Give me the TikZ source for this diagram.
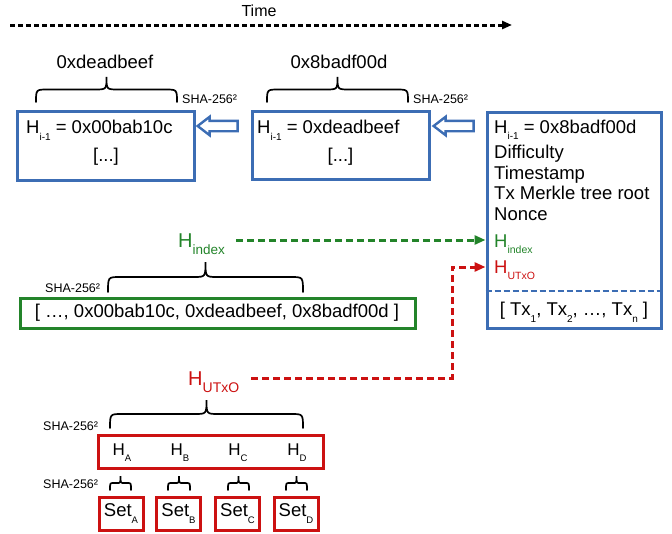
\documentclass[tikz,border=0pt]{standalone}
\usepackage{fontspec}
\setmainfont{Liberation Sans}
\usetikzlibrary{arrows.meta,shapes.arrows}
\definecolor{bblue}{HTML}{3C6DB4}
\definecolor{ggreen}{HTML}{23842A}
\definecolor{rred}{HTML}{CC1111}
\newcommand\fs[1]{\fontsize{#1}{#1}\selectfont}
\newcommand\dn[3]{\raisebox{-#1pt}{\fs{#2}#3}}
\newcommand\brc[4]{%
  \pgfmathsetmacro\bm{(#1+#2)/2}%
  \pgfmathsetmacro\bh{#3-0.5*(#3-#4)}%
  \pgfmathsetmacro\br{min(12,(#2-#1)/6)}%
  \draw[bracepath] (#1,#3) .. controls (#1,\bh) .. (#1+\br,\bh) -- (\bm-\br,\bh)
    .. controls (\bm,\bh) .. (\bm,#4) .. controls (\bm,\bh) .. (\bm+\br,\bh)
    -- (#2-\br,\bh) .. controls (#2,\bh) .. (#2,#3);}
\begin{document}
\begin{tikzpicture}[x=1pt,y=-1pt,font=\fs{18.5},
  box/.style={draw, line width=3pt, inner sep=0pt},
  bluebox/.style={box, draw=bblue},
  greenbox/.style={box, draw=ggreen},
  redbox/.style={box, draw=rred},
  lbl/.style={inner sep=0pt, anchor=base},
  lblw/.style={inner sep=0pt, anchor=base west},
  sha/.style={inner sep=0pt, anchor=base west, font=\fs{12.5}},
  bracepath/.style={line width=1.7pt, line cap=round},
  hollow/.style={single arrow, draw=bblue, fill=white, line width=2.4pt,
    minimum height=40pt, inner xsep=0pt, inner ysep=4pt,
    single arrow head extend=4pt, single arrow tip angle=75,
    shape border rotate=180},
  timeline/.style={line width=3pt, dash pattern=on 5pt off 3pt,
    -{Triangle[length=10pt,width=8pt]}},
  garrow/.style={ggreen, line width=3pt, dash pattern=on 7pt off 4pt,
    -{Triangle[length=11pt,width=9pt]}},
  rarrow/.style={rred, line width=3pt, dash pattern=on 7pt off 4pt,
    -{Triangle[length=11pt,width=9pt]}}
]
\useasboundingbox (0,0) rectangle (672,533);

% time axis
\coordinate (ts) at (10,25);
\coordinate (te) at (512,25);
\node[lbl, font=\fs{16}] (time) at (259,16.5) {Time};
\draw[timeline] (ts) -- (te);

% block headers
\node[lbl] (lab1) at (105,68) {0xdeadbeef};
\node[lbl] (lab2) at (339,68) {0x8badf00d};
\brc{36}{177}{102}{77}
\brc{267}{408}{102}{77}
\node[sha] (sha1) at (182,103) {SHA-256²};
\node[sha] (sha2) at (413,103) {SHA-256²};

% blocks
\node[bluebox, minimum width=177pt, minimum height=69pt] (b1) at (105.5,145.5) {};
\node[lblw] (b1t) at (26,133) {H\dn{7}{10}{i-1} = 0x00bab10c};
\node[lbl] (b1d) at (106,161) {[...]};

\node[bluebox, minimum width=177pt, minimum height=68pt] (b2) at (340.5,145) {};
\node[lblw] (b2t) at (257,133) {H\dn{7}{10}{i-1} = 0xdeadbeef};
\node[lbl] (b2d) at (340.5,161) {[...]};

\node[bluebox, minimum width=174pt, minimum height=216pt] (b3) at (574,220) {};
\node[lblw] (b3a) at (494,133) {H\dn{6}{10}{i-1} = 0x8badf00d};
\node[lblw] (b3b) at (494,158) {Difficulty};
\node[lblw] (b3c) at (494,179) {Timestamp};
\node[lblw] (b3d) at (494,199) {Tx Merkle tree root};
\node[lblw] (b3e) at (494,220) {Nonce};
\node[lblw, text=ggreen] (b3f) at (494,247) {H\dn{6}{10.5}{index}};
\node[lblw, text=rred] (b3g) at (494,273) {H\dn{6}{10.5}{UTxO}};
\coordinate (sepy) at (0,291);
\draw[bblue, line width=2.4pt, dash pattern=on 6pt off 3pt] (b3.west |- sepy) -- (b3.east |- sepy);
\node[lbl] (b3h) at (574,315) {[ Tx\dn{7}{10}{1}, Tx\dn{7}{10}{2}, …, Tx\dn{7}{10}{n} ]};

% hollow arrows between blocks
\node[hollow] (a1) at (221,126) {};
\node[hollow] (a2) at (457,126) {};

% index
\node[lblw, text=ggreen, font=\fs{20}] (hidx) at (178,247) {H\dn{7}{13.5}{index}};
\brc{108}{303}{292}{262}
\node[sha] (sha3) at (45,292) {SHA-256²};
\node[greenbox, minimum width=395pt, minimum height=30pt] (gbox) at (217.5,313) {};
\node[lbl] (gtxt) at (217,317) {[ …, 0x00bab10c, 0xdeadbeef, 0x8badf00d ]};
\draw[garrow] ([shift={(11,-7)}]hidx.base east) coordinate (g0) -- (g0 -| b3.west);

% UTxO
\node[lblw, text=rred, font=\fs{20}] (hutxo) at (188,385) {H\dn{7}{14}{UTxO}};
\coordinate (rc) at (452,267);
\draw[rarrow] ([shift={(12,-7)}]hutxo.base east) coordinate (r0) -| (rc) -- (rc -| b3.west);
\brc{110}{303}{428}{400}
\node[sha] (sha4) at (43,430) {SHA-256²};
\node[redbox, minimum width=225pt, minimum height=33pt] (hbox) at (210.5,451.5) {};
\node[lbl, font=\fs{17}] (ha) at (122,455) {H\dn{6}{9.5}{A}};
\node[lbl, font=\fs{17}] (hb) at (180,455) {H\dn{6}{9.5}{B}};
\node[lbl, font=\fs{17}] (hc) at (238,455) {H\dn{6}{9.5}{C}};
\node[lbl, font=\fs{17}] (hd) at (297,455) {H\dn{6}{9.5}{D}};
\node[sha] (sha5) at (43,488) {SHA-256²};
\brc{110}{131}{490}{476}
\brc{168}{190}{490}{476}
\brc{228}{249}{490}{476}
\brc{286}{307}{490}{476}
\node[redbox, minimum width=44pt, minimum height=33pt] (sa) at (121,513.5) {Set\dn{7}{9.5}{A}};
\node[redbox, minimum width=44pt, minimum height=33pt] (sb) at (178.5,513.5) {Set\dn{7}{9.5}{B}};
\node[redbox, minimum width=44pt, minimum height=33pt] (sc) at (237.5,513.5) {Set\dn{7}{9.5}{C}};
\node[redbox, minimum width=44pt, minimum height=33pt] (sd) at (296,513.5) {Set\dn{7}{9.5}{D}};
\end{tikzpicture}
\end{document}
